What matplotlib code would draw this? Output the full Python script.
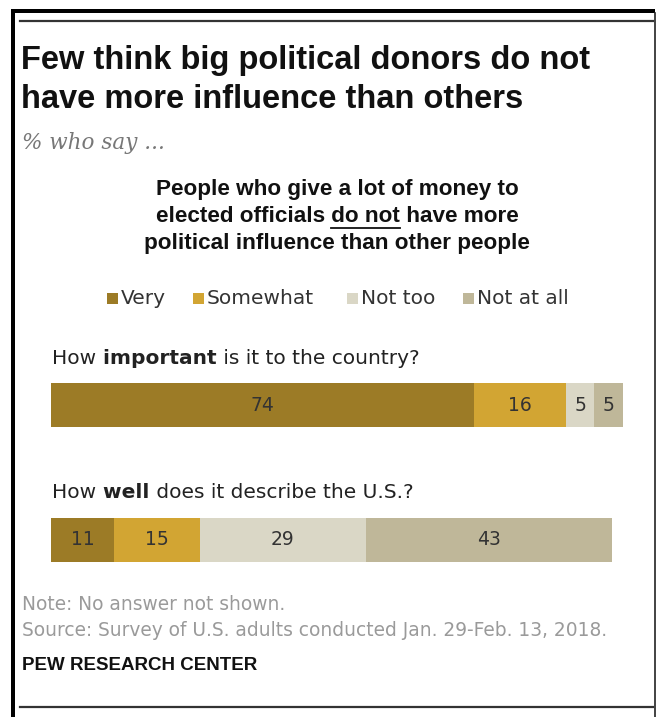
import matplotlib
matplotlib.use("Agg")
import matplotlib.pyplot as plt
from matplotlib.lines import Line2D
from matplotlib.patches import Rectangle
import numpy as np

# data
questions = ["How important is it to the country?", "How well does it describe the U.S.?"]
q_bold = ["important", "well"]
categories = ["Very", "Somewhat", "Not too", "Not at all"]
very = [74, 11]
somewhat = [16, 15]
not_too = [5, 29]
not_at_all = [5, 43]
colors = ["#9c7b26", "#d2a533", "#dad7c6", "#bfb799"]

W, H = 658, 717
fig = plt.figure(figsize=(W / 100, H / 100), dpi=100)
fig.patch.set_facecolor("white")

body = ["DejaVu Sans"]
heavy = ["Liberation Sans", "DejaVu Sans"]


def fx(x):
    return x / W


def fy(y):
    return 1 - y / H


renderer = fig.canvas.get_renderer()


def width_of(s, **kw):
    t = fig.text(0, 0, s, **kw)
    w = t.get_window_extent(renderer).width
    t.remove()
    return w


def runs(x, y, parts, **kw):
    # draw text pieces one after another, parts = [(text, weight)]
    out = []
    for s, wt in parts:
        t = fig.text(fx(x), fy(y), s, weight=wt, ha="left", va="center", **kw)
        bb = t.get_window_extent(renderer)
        out.append((t, bb))
        x += bb.width
    return out


# frame
fig.add_artist(Rectangle((fx(11), 0), fx(4), fy(9),
                         transform=fig.transFigure, color="black", lw=0))
fig.add_artist(Rectangle((fx(11), fy(13)), fx(655 - 11), fy(9) - fy(13),
                         transform=fig.transFigure, color="black", lw=0))
fig.add_artist(Line2D([fx(654.5)] * 2, [fy(13), 0], transform=fig.transFigure, color="#222", lw=1.2))
fig.add_artist(Line2D([fx(20), fx(653)], [fy(21)] * 2, transform=fig.transFigure, color="#333", lw=1.6))
fig.add_artist(Line2D([fx(20), fx(653)], [fy(707)] * 2, transform=fig.transFigure, color="#333", lw=1.6))

# title
fig.text(fx(21), fy(60), "Few think big political donors do not", family=heavy, weight="bold",
         fontsize=23.5, color="#111", va="center")
fig.text(fx(21), fy(100), "have more influence than others", family=heavy, weight="bold",
         fontsize=23.5, color="#111", va="center")
fig.text(fx(22), fy(143), "% who say ...", family=["DejaVu Serif"], style="italic",
         fontsize=15.5, color="#777", va="center")

# chart heading
hsize = 16.2
hkw = dict(family=heavy, weight="bold", fontsize=hsize, color="#111")
fig.text(fx(337), fy(189), "People who give a lot of money to", ha="center", va="center", **hkw)
fig.text(fx(337), fy(244), "political influence than other people", ha="center", va="center", **hkw)
full = width_of("elected officials do not have more", **hkw)
pieces = runs(337 - full / 2, 216, [("elected officials", "bold"), (" do not", "bold"), (" have more", "bold")],
              family=heavy, fontsize=hsize, color="#111")
bb = pieces[1][1]
wdn = width_of("do not", **hkw)
fig.add_artist(Line2D([fx(bb.x1 - wdn), fx(bb.x1)], [fy(228)] * 2, transform=fig.transFigure,
                      color="#111", lw=1.3))

# legend
lkw = dict(family=body, fontsize=14.5, color="#333")
leg_x = [107, 193, 347, 463]
for x0, cat, c in zip(leg_x, categories, colors):
    fig.add_artist(Rectangle((fx(x0), fy(304)), fx(11), fy(293) - fy(304),
                             transform=fig.transFigure, color=c, lw=0))
    fig.text(fx(x0 + 14), fy(298.5), cat, va="center", **lkw)

# question labels
qkw = dict(family=body, fontsize=14.5, color="#222")
for q, b, yq in zip(questions, q_bold, [358, 493]):
    pre, post = q.split(" " + b + " ")
    runs(52, yq, [(pre, "normal"), (" " + b, "bold"), (" " + post, "normal")], **qkw)

# bars
ax = fig.add_axes([fx(51), fy(562), fx(623) - fx(51), fy(383) - fy(562)])
ypos = np.array([0, 1])
bh = 44 / 134.5
ax.set_xlim(0, 100)
ax.set_ylim(1 + bh / 2, -bh / 2)
ax.axis("off")
left = np.zeros(2)
for vals, c in zip([very, somewhat, not_too, not_at_all], colors):
    vals = np.array(vals)
    ax.barh(ypos, vals, left=left, height=bh, color=c, edgecolor="none")
    for yi, v, l in zip(ypos, vals, left):
        ax.text(l + v / 2, yi, str(v), ha="center", va="center", family=body, fontsize=13.5, color="#333")
    left = left + vals

# footer
fkw = dict(family=body, fontsize=13.4, color="#9a9a9a", va="center")
fig.text(fx(22), fy(605), "Note: No answer not shown.", **fkw)
fig.text(fx(22), fy(631), "Source: Survey of U.S. adults conducted Jan. 29-Feb. 13, 2018.", **fkw)
fig.text(fx(22), fy(666), "PEW RESEARCH CENTER", family=heavy, weight="bold", fontsize=13.5,
         color="#111", va="center")

fig.savefig("out.png", dpi=100)
